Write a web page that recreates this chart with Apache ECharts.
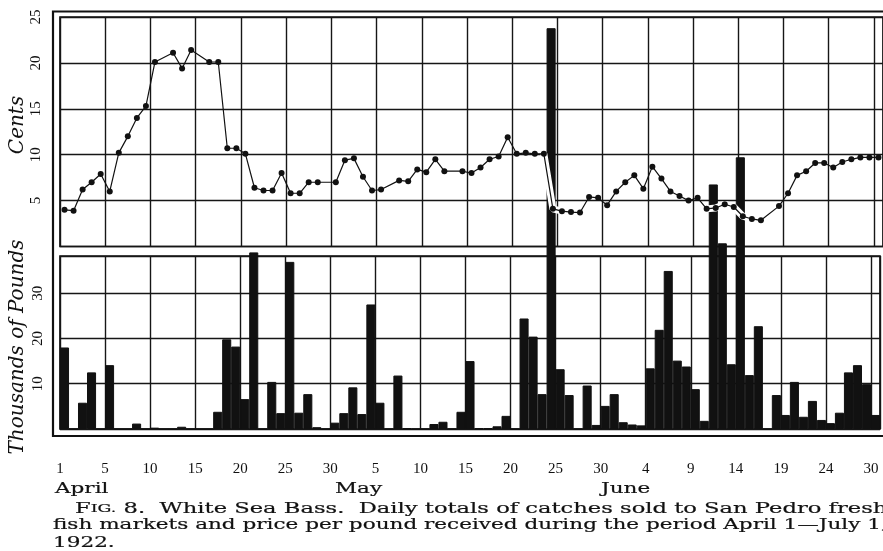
<!DOCTYPE html>
<html><head><meta charset="utf-8">
<script src="https://cdn.jsdelivr.net/npm/echarts@6/dist/echarts.min.js"></script>
<style>html,body{margin:0;padding:0;background:#fff}#c{width:883px;height:551px}</style>
</head><body><div id="c"></div>
<script>
// Days from April 1 (index 0) to June 30 (index 90), 1922
const dayCount = 91;
// Daily catch sold, thousands of pounds
const catchThousands = [
  18.0, 0, 5.8, 12.5, 0, 14.1, 0, 0, 1.2, 0,
  0.3, 0, 0, 0.5, 0, 0, 0, 3.8, 19.8, 18.2,
  6.6, 39.0, 0, 10.4, 3.5, 36.9, 3.6, 7.7, 0.4, 0,
  1.4, 3.5, 9.2, 3.3, 27.5, 5.8, 0, 11.8, 0.2, 0,
  0, 1.1, 1.6, 0, 3.8, 15.0, 0.2, 0.2, 0.6, 2.9,
  0, 24.4, 20.4, 7.7, 88.5, 13.2, 7.5, 0, 9.6, 0.9,
  5.1, 7.7, 1.5, 1.0, 0.8, 13.4, 21.9, 34.9, 15.1, 13.8,
  8.8, 1.8, 54.0, 41.0, 14.3, 60.0, 11.9, 22.7, 0, 7.5,
  3.1, 10.4, 2.7, 6.2, 2.0, 1.3, 3.6, 12.5, 14.1, 9.9,
  3.1
];
// Price per pound, cents (null = no quotation that day)
const priceCents = [
  4.0, 3.9, 6.2, 7.0, 7.9, 6.0, 10.2, 12.0, 14.0, 15.3,
  20.1, null, 21.1, 19.4, 21.4, null, 20.1, 20.1, 10.7, 10.7,
  10.1, 6.4, 6.1, 6.1, 8.0, 5.8, 5.8, 7.0, 7.0, null,
  7.0, 9.4, 9.6, 7.6, 6.1, 6.2, null, 7.2, 7.1, 8.4,
  8.1, 9.5, 8.2, null, 8.2, 8.0, 8.6, 9.5, 9.8, 11.9,
  10.1, 10.2, 10.1, 10.1, 4.1, 3.85, 3.75, 3.7, 5.4, 5.3,
  4.5, 6.0, 7.0, 7.75, 6.3, 8.7, 7.4, 6.0, 5.5, 5.0,
  5.3, 4.1, 4.2, 4.6, 4.3, 3.3, 3.0, 2.85, null, 4.4,
  5.8, 7.75, 8.2, 9.1, 9.1, 8.6, 9.2, 9.5, 9.7, 9.7,
  9.7
];
const xTickLabels = ['1','5','10','15','20','25','30','5','10','15','20','25','30','4','9','14','19','24','30'];
const monthLabels = ['April','May','June'];
const priceTicks = [5, 10, 15, 20, 25];
const catchTicks = [10, 20, 30];
const priceTitle = 'Cents';
const catchTitle = 'Thousands of Pounds';
const captionLines = [
  '{sc1|F}{sc2|IG.} 8.  White Sea Bass.  Daily totals of catches sold to San Pedro fresh',
  'fish markets and price per pound received during the period April 1\u2014July 1,',
  '1922.'
];

const GL = 60, GW = 825;
const priceMax = 25, catchMax = 38.2;
const tickFont = '"Liberation Serif", "Times New Roman", serif';

// horizontal stretch of the caption type, measured so line 2 spans the page
const mctx = document.createElement('canvas').getContext('2d');
mctx.font = '15px "DejaVu Serif"';
const capScale = (881 - 53) / mctx.measureText('fish markets and price per pound received during the period April 1\u2014July 1').width;

// white halo on the price line where it crosses bars rising into the price panel
const tall = i => i >= 0 && i < dayCount && catchThousands[i] > 40;
const haloData = priceCents.map((v, i) => (tall(i - 1) || tall(i) || tall(i + 1)) ? [i + 0.5, v] : [i + 0.5, null]);

const chart = echarts.init(document.getElementById('c'), null, {renderer: 'canvas'});
const gridLine = {show: true, lineStyle: {color: '#161616', width: 1.4}};

const capStyle = text => ({text: text, font: '15px "DejaVu Serif"', fill: '#111', stroke: '#111', lineWidth: 0.2,
  align: 'left', verticalAlign: 'middle'});
const capText = (text, x, y, sx) => ({
  type: 'text', x: x, y: y, scaleX: sx || capScale, scaleY: 1, silent: true, z: 50, style: capStyle(text)
});

const line1 = capText(captionLines[0], 75, 509, capScale * 1.05);
line1.style.rich = {
  sc1: {font: '15px "DejaVu Serif"', fill: '#111', stroke: '#111', lineWidth: 0.2},
  sc2: {font: '11.5px "DejaVu Serif"', fill: '#111', stroke: '#111', lineWidth: 0.2}
};

const option = {
  animation: false,
  backgroundColor: '#fff',
  grid: [
    {left: GL, top: 17, width: GW, height: 229.5, show: true, borderColor: '#111', borderWidth: 1.7, backgroundColor: 'transparent'},
    {left: GL, top: 256, width: GW, height: 173, show: true, borderColor: '#111', borderWidth: 1.7, backgroundColor: 'transparent'}
  ],
  xAxis: [
    {gridIndex: 0, type: 'value', min: 0, max: dayCount, interval: 5,
     axisLine: {show: false}, axisTick: {show: false}, axisLabel: {show: false}, splitLine: gridLine},
    {gridIndex: 1, type: 'value', min: 0, max: dayCount, interval: 5,
     axisLine: {show: false}, axisTick: {show: false}, splitLine: gridLine,
     axisLabel: {show: true, margin: 33, fontFamily: tickFont, fontSize: 15, color: '#111',
       showMinLabel: true, showMaxLabel: true,
       formatter: v => (v % 5 === 0 && xTickLabels[v / 5] !== undefined) ? xTickLabels[v / 5] : ''}}
  ],
  yAxis: [
    {gridIndex: 0, type: 'value', min: 0, max: priceMax, interval: 5,
     axisLine: {show: false}, axisTick: {show: false}, splitLine: gridLine,
     axisLabel: {rotate: 90, margin: 16, fontFamily: tickFont, fontSize: 15, color: '#111',
       showMaxLabel: true, formatter: v => priceTicks.includes(v) ? String(v) : ''}},
    {gridIndex: 1, type: 'value', min: 0, max: catchMax, interval: 10,
     axisLine: {show: false}, axisTick: {show: false}, splitLine: gridLine,
     axisLabel: {rotate: 90, margin: 14, fontFamily: tickFont, fontSize: 15, color: '#111',
       formatter: v => catchTicks.includes(v) ? String(v) : ''}}
  ],
  series: [
    {type: 'bar', name: 'Catch', xAxisIndex: 1, yAxisIndex: 1, clip: false, z: 2,
     barWidth: GW / dayCount, itemStyle: {color: '#111', borderColor: '#111', borderWidth: 1},
     data: catchThousands.map((v, i) => [i + 0.5, v])},
    {type: 'line', name: 'halo', xAxisIndex: 0, yAxisIndex: 0, z: 3, silent: true,
     symbol: 'none', connectNulls: false, lineStyle: {color: '#fff', width: 7}, data: haloData},
    {type: 'line', name: 'Price', xAxisIndex: 0, yAxisIndex: 0, z: 4, connectNulls: true,
     symbol: 'circle', symbolSize: 6, itemStyle: {color: '#111'},
     lineStyle: {color: '#111', width: 1.2},
     data: priceCents.map((v, i) => [i + 0.5, v])}
  ],
  graphic: [
    {type: 'rect', z: 40, silent: true, shape: {x: 53, y: 11.5, width: 900, height: 424.5},
     style: {fill: 'none', stroke: '#111', lineWidth: 2.2}},
    {type: 'text', x: 18, y: 125, rotation: Math.PI / 2, z: 50, silent: true,
     style: {text: priceTitle, font: 'italic 20px "DejaVu Serif"', fill: '#111', align: 'center', verticalAlign: 'middle'}},
    {type: 'text', x: 18, y: 347, rotation: Math.PI / 2, z: 50, silent: true,
     style: {text: catchTitle, font: 'italic 20px "DejaVu Serif"', fill: '#111', align: 'center', verticalAlign: 'middle'}},
    capText(monthLabels[0], 55, 489),
    capText(monthLabels[1], 335, 489),
    capText(monthLabels[2], 601, 489),
    line1,
    capText(captionLines[1], 53, 525),
    capText(captionLines[2], 53, 543)
  ]
};
chart.setOption(option);
</script>
</body></html>
